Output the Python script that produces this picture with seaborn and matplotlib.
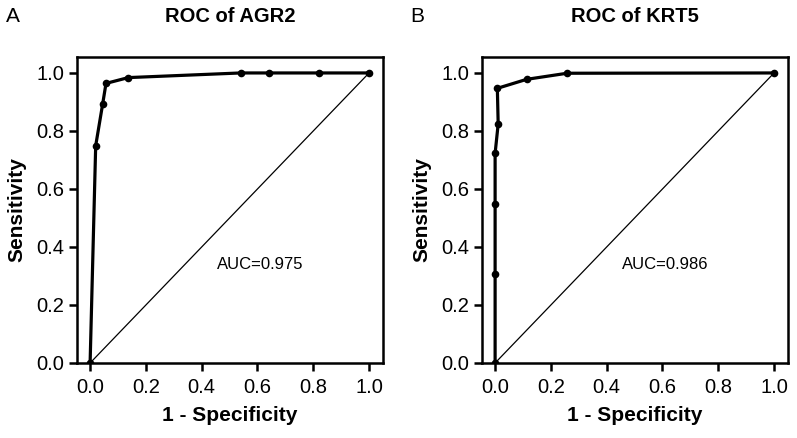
import pandas as pd
import seaborn as sns
import matplotlib.pyplot as plt

# ROC points (1 - specificity, sensitivity)
agr2_fpr = [0.0, 0.02, 0.045, 0.057, 0.137, 0.54, 0.642, 0.82, 1.0]
agr2_tpr = [0.0, 0.749, 0.893, 0.964, 0.984, 1.0, 1.0, 1.0, 1.0]

krt5_fpr = [0.0, 0.0, 0.0, 0.0, 0.011, 0.008, 0.113, 0.258, 1.0]
krt5_tpr = [0.0, 0.306, 0.548, 0.723, 0.824, 0.947, 0.978, 0.999, 1.0]

titles = ['ROC of AGR2', 'ROC of KRT5']
panel_letters = ['A', 'B']
auc_labels = ['AUC=0.975', 'AUC=0.986']
ticks = [0.0, 0.2, 0.4, 0.6, 0.8, 1.0]

sns.set_style('ticks')
plt.rcParams['font.family'] = ['Liberation Sans', 'DejaVu Sans']
plt.rcParams['text.color'] = 'black'
plt.rcParams['axes.labelcolor'] = 'black'
plt.rcParams['axes.edgecolor'] = 'black'
plt.rcParams['xtick.color'] = 'black'
plt.rcParams['ytick.color'] = 'black'

fig = plt.figure(figsize=(7.97, 4.38), dpi=100)
W, H = 797, 438
boxes = [(77, 57, 306, 306), (482, 57, 306, 306)]
curves = [(agr2_fpr, agr2_tpr), (krt5_fpr, krt5_tpr)]
letter_x = [6, 410]

for i, (l, t, w, h) in enumerate(boxes):
    ax = fig.add_axes([l / W, 1 - (t + h) / H, w / W, h / H])
    df = pd.DataFrame({'fpr': curves[i][0], 'tpr': curves[i][1]})
    sns.lineplot(x=[0, 1], y=[0, 1], ax=ax, color='black', linewidth=0.9)
    sns.lineplot(data=df, x='fpr', y='tpr', ax=ax, sort=False, estimator=None,
                 color='black', linewidth=2.3, marker='o', markersize=5.5,
                 markeredgewidth=0)
    ax.set_xlim(-0.047, 1.05)
    ax.set_ylim(0, 1.055)
    ax.set_xticks(ticks)
    ax.set_yticks(ticks)
    ax.set_xticklabels([f'{v:.1f}' for v in ticks])
    ax.set_yticklabels([f'{v:.1f}' for v in ticks])
    for s in ax.spines.values():
        s.set_linewidth(1.8)
        s.set_visible(True)
    ax.tick_params(axis='both', direction='out', length=5.5, width=1.8,
                   labelsize=14.5)
    ax.tick_params(axis='x', pad=5)
    ax.tick_params(axis='y', pad=3.5)
    ax.set_xlabel('1 - Specificity', fontsize=15, fontweight='bold', labelpad=7)
    ax.set_ylabel('Sensitivity', fontsize=15, fontweight='bold', labelpad=7)
    ax.text(0.61, 0.34, auc_labels[i], fontsize=12, ha='center', va='center')
    fig.text((l + w / 2) / W, 1 - 16 / H, titles[i], fontsize=14.5,
             fontweight='bold', ha='center', va='center')
    fig.text(letter_x[i] / W, 1 - 16 / H, panel_letters[i], fontsize=15,
             ha='left', va='center')

fig.savefig('out.png', dpi=100)
